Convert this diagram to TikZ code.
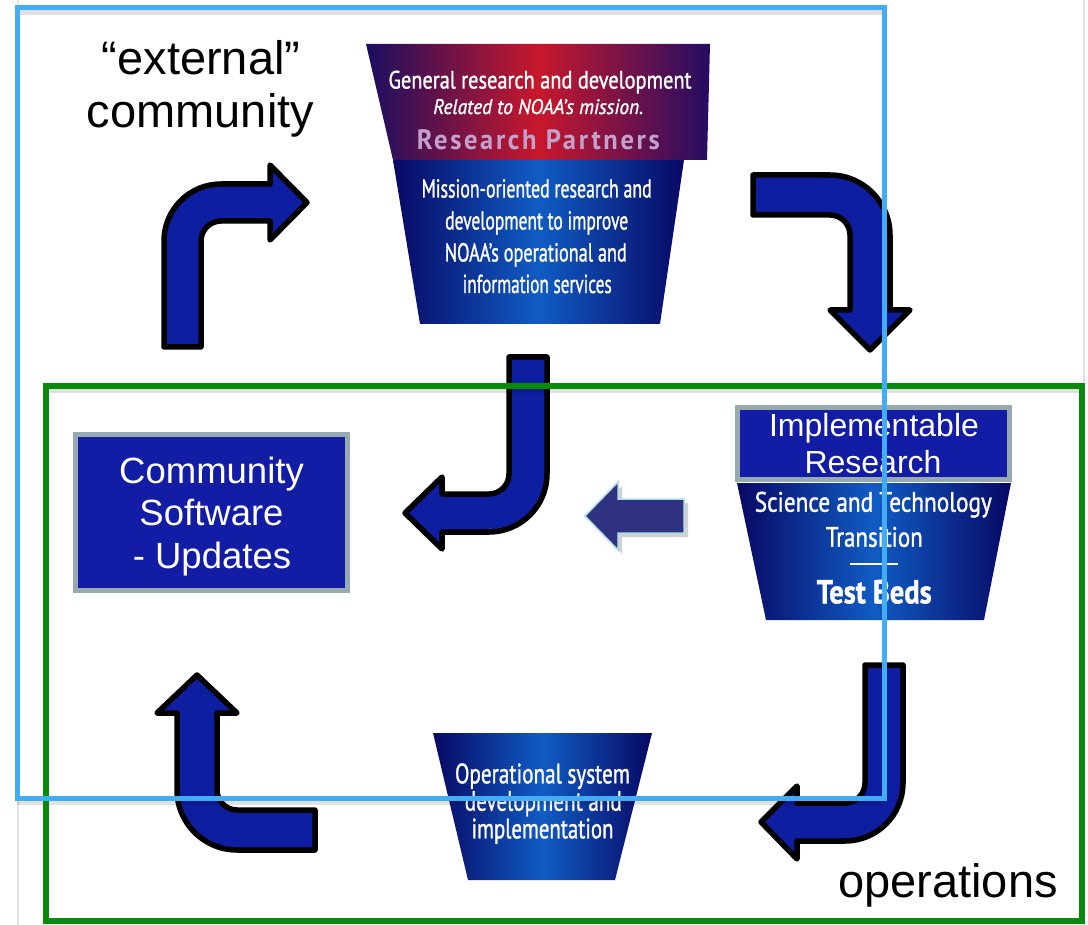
\documentclass[tikz,border=0pt]{standalone}
\usepackage{fontspec}
\setmainfont{Liberation Sans}
\newfontfamily\condfont[FakeBold=1.3]{PT Sans}
\newfontfamily\condspaced[LetterSpace=10]{PT Sans}
\usepackage{graphicx}
\newcommand\fitw[2]{\resizebox{#1}{\height}{#2}}
\definecolor{arrowblue}{RGB}{14,30,160}
\definecolor{boxblue}{RGB}{18,28,165}
\definecolor{boxedge}{RGB}{150,170,175}
\definecolor{framecyan}{RGB}{66,172,245}
\definecolor{framegreen}{RGB}{10,138,10}
\definecolor{fnavy}{RGB}{26,14,96}
\definecolor{fred}{RGB}{200,24,44}
\definecolor{deepnavy}{RGB}{8,8,100}
\definecolor{midblue}{RGB}{16,92,196}
\definecolor{slatearrow}{RGB}{46,50,128}
\definecolor{palecyan}{RGB}{175,222,232}
\definecolor{mauve}{RGB}{196,160,205}
\tikzset{
  bigarrow/.style={fill=arrowblue, draw=black, line width=5.5pt, line join=round},
  labelbox/.style={fill=boxblue, draw=boxedge, line width=5pt},
  funneltxt/.style={anchor=base, inner sep=0pt, text=white},
  bigtxt/.style={inner sep=0pt, anchor=base, font=\fontsize{47}{53}\selectfont},
  frameshadow/.style={line width=6pt, black, opacity=0.12},
}
\begin{document}
\begin{tikzpicture}[x=1pt,y=-1pt]
\useasboundingbox (0,0) rectangle (1088,925);
\fill[white] (0,0) rectangle (1088,925);
% faint slide border
\draw[gray!22, line width=1.2pt] (18,0) -- (18,925);
\draw[gray!22, line width=1.2pt] (1084,0) -- (1084,925);

% ---------- top funnel ----------
\path[left color=fnavy, right color=fnavy!90!violet, middle color=fred]
  (366,44) -- (710,44) -- (707,160) -- (393,160) -- cycle;
\path[left color=deepnavy, right color=deepnavy, middle color=midblue]
  (393,160) -- (684,160) -- (660,324) -- (420,324) -- cycle;
\node[funneltxt, font=\condfont\fontsize{25}{28}\selectfont] (g1) at (540,88.5) {\fitw{303pt}{General research and development}};
\node[funneltxt, font=\condfont\itshape\fontsize{21}{24}\selectfont] (g2) at (538.3,114) {\fitw{210pt}{Related to NOAA’s mission.}};
\node[funneltxt, text=mauve, font=\condspaced\bfseries\fontsize{28}{30}\selectfont] (g3) at (538.3,150) {\fitw{243pt}{Research Partners}};
\node[funneltxt, font=\condfont\fontsize{26}{28}\selectfont] (m1) at (536.7,197.5) {\fitw{230pt}{Mission-oriented research and}};
\node[funneltxt, font=\condfont\fontsize{26}{28}\selectfont] (m2) at (536.7,229.5) {\fitw{183pt}{development to improve}};
\node[funneltxt, font=\condfont\fontsize{26}{28}\selectfont] (m3) at (535.8,261.5) {\fitw{182pt}{NOAA’s operational and}};
\node[funneltxt, font=\condfont\fontsize{26}{28}\selectfont] (m4) at (537.2,293) {\fitw{149pt}{information services}};

% ---------- right funnel ----------
\path[left color=deepnavy, right color=deepnavy, middle color=midblue]
  (737,483) -- (1011,483) -- (984,620) -- (766,620) -- cycle;
\node[labelbox, minimum width=272pt, minimum height=72pt, inner sep=0pt] (impl) at (873.5,443.5) {};
\node[funneltxt, font=\fontsize{32}{35}\selectfont] (impl1) at (874,436.7) {Implementable};
\node[funneltxt, font=\fontsize{32}{35}\selectfont] (impl2) at (873,473.3) {Research};
\node[funneltxt, font=\condfont\fontsize{28}{30}\selectfont] (s1) at (873.3,511.7) {\fitw{237pt}{Science and Technology}};
\node[funneltxt, font=\condfont\fontsize{28}{30}\selectfont] (s2) at (874.3,546.7) {\fitw{97pt}{Transition}};
\draw[white, line width=2.5pt] (850,564) -- (898,564);
\node[funneltxt, font=\condfont\bfseries\fontsize{33}{34}\selectfont] (s3) at (874.2,603.3) {\fitw{115pt}{Test Beds}};

% ---------- bottom funnel ----------
\path[left color=deepnavy, right color=deepnavy, middle color=midblue]
  (433,733) -- (652,733) -- (615,880) -- (468,880) -- cycle;
\node[funneltxt, font=\condfont\fontsize{28}{30}\selectfont] (o1) at (542.5,783.3) {\fitw{175pt}{Operational system}};
\node[funneltxt, font=\condfont\fontsize{28}{30}\selectfont] (o2) at (543.3,810.7) {\fitw{157pt}{development and}};
\node[funneltxt, font=\condfont\fontsize{28}{30}\selectfont] (o3) at (542.5,838.3) {\fitw{142pt}{implementation}};

% ---------- community software box ----------
\node[labelbox, minimum width=272pt, minimum height=156pt, inner sep=0pt] (comm) at (211,512.5) {};
\node[funneltxt, font=\fontsize{36.5}{42}\selectfont] (c1) at (211.5,483.3) {Community};
\node[funneltxt, font=\fontsize{36.5}{42}\selectfont] (c2) at (211.5,525) {Software};
\node[funneltxt, font=\fontsize{36.5}{42}\selectfont] (c3) at (212,568) {- Updates};

% ---------- big bent arrows ----------
% up then right
\draw[bigarrow] (164,347) -- (164,241) .. controls (164,209.5) and (189.5,184) .. (221,184)
  -- (270,184) -- (270,165) -- (307,202.5) -- (270,240) -- (270,221) -- (221,221)
  .. controls (210,221) and (201,230) .. (201,241) -- (201,347) -- cycle;
% right then down
\draw[bigarrow] (753,175) -- (830,175) .. controls (863.1,175) and (890,201.9) .. (890,235)
  -- (890,310) -- (910,310) -- (870,350) -- (830,310) -- (850,310) -- (850,235)
  .. controls (850,224) and (841,215) .. (830,215) -- (753,215) -- cycle;
% down then left (middle)
\draw[bigarrow] (509,357) -- (547,357) -- (547,474) .. controls (547,506) and (521,532) .. (489,532)
  -- (442,532) -- (442,549) -- (405,513) -- (442,477) -- (442,494) -- (489,494)
  .. controls (500,494) and (509,485) .. (509,474) -- cycle;
% small straight arrow
\fill[black, opacity=0.18] (688,503) -- (622,503) -- (622,486) -- (589,520) -- (622,554) -- (622,537) -- (688,537) -- cycle;
\draw[fill=slatearrow, draw=palecyan, line width=1.5pt, line join=miter]
  (684,499) -- (618,499) -- (618,482) -- (585,516) -- (618,550) -- (618,533) -- (684,533) -- cycle;
% down then left (bottom right)
\draw[bigarrow] (865,665) -- (903,665) -- (903,783) .. controls (903,815) and (877,841) .. (845,841)
  -- (797,841) -- (797,859) -- (761,822) -- (797,786) -- (797,803) -- (845,803)
  .. controls (856,803) and (865,794) .. (865,783) -- cycle;
% left then up (bottom left)
\draw[bigarrow] (315,810) -- (237,810) .. controls (226,810) and (217,801) .. (217,790)
  -- (217,713) -- (237,713) -- (197,675) -- (157,713) -- (177,713) -- (177,790)
  .. controls (177,823.1) and (203.9,850) .. (237,850) -- (315,850) -- cycle;

% ---------- labels ----------
\node[bigtxt] (ext1) at (201,75) {“external”};
\node[bigtxt] (ext2) at (200.5,128) {community};
\node[bigtxt] (ops) at (948,897) {operations};

% ---------- frames ----------
\draw[frameshadow] (46,390) -- (1083,390);
\draw[frameshadow] (17,802) -- (884,802);
\draw[frameshadow] (17,12) -- (884,12);
\draw[framegreen, line width=6pt] (46,386) rectangle (1082,921);
\draw[framecyan, line width=5pt] (17,8) rectangle (884,798);
\end{tikzpicture}
\end{document}
